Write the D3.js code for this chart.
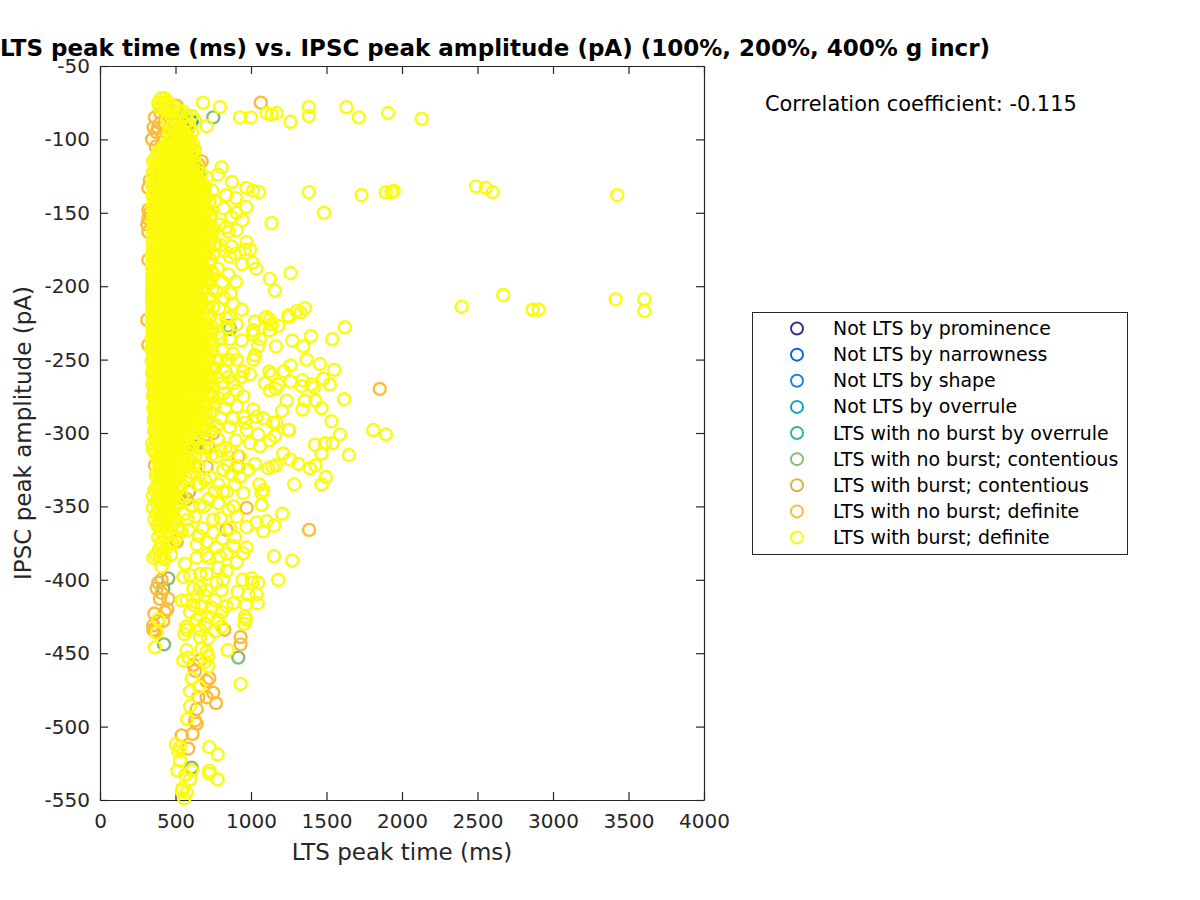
<!DOCTYPE html>
<html>
<head>
<meta charset="utf-8">
<script src="https://cdn.jsdelivr.net/npm/d3@7"></script>
<style>
  body { margin: 0; background: #fff; }
  text { font-family: "DejaVu Sans", sans-serif; }
  .axis path, .axis line { stroke: #262626; stroke-width: 1.2; }
  .axis text { fill: #262626; font-size: 20px; }
</style>
</head>
<body>
<svg id="chart" width="1200" height="900"></svg>
<script>
// legend names, same order as the drawing order
var categories = ["Not LTS by prominence", "Not LTS by narrowness", "Not LTS by shape", "Not LTS by overrule",
  "LTS with no burst by overrule", "LTS with no burst; contentious", "LTS with burst; contentious",
  "LTS with no burst; definite", "LTS with burst; definite"];
var colors = ["#3f2d92", "#0b62e0", "#1c86dd", "#08a6c8", "#2fb7a5", "#86bd74", "#d9b44f", "#fcbc3a", "#fbfb0a"];

var xTicks = [0, 500, 1000, 1500, 2000, 2500, 3000, 3500, 4000];
var yTicks = [-50, -100, -150, -200, -250, -300, -350, -400, -450, -500, -550];

// first three classes are not visible in the picture
var notProminence = [], notNarrowness = [], notShape = [];
var notOverrule = [[485,-90],[552,-86],[607,-88],[574,-94],[470,-104],[400,-126],[590,-150],[640,-178],[560,-120]];
var noBurstOverrule = [[585,-109],[640,-122],[630,-124],[650,-120],[560,-136],[590,-206],[640,-205]];
var noBurstContentious = [[750,-85],[574,-95],[585,-104],[655,-122],[629,-309],[640,-306],[861,-229],[850,-227],
  [452,-399],[424,-444],[419,-406],[916,-453],[607,-528],[570,-224],[519,-344]];
var burstContentious = [[574,-96],[555,-90],[540,-200],[600,-232],[590,-340]];
var noBurstDefinite = [[1065,-75],[508,-77],[397,-89],[364,-85],[375,-95],[474,-85],[574,-95],[673,-115],[651,-117],
  [320,-133],[320,-148],[320,-154],[320,-163],[313,-158],[331,-150],[320,-182],[330,-128],[345,-100],[355,-92],
  [400,-82],[430,-90],[420,-98],[385,-92],[370,-105],[440,-95],
  [313,-223],[320,-240],[1853,-270],[1385,-366],[750,-300],[717,-309],[706,-323],[916,-316],[916,-323],[971,-351],
  [838,-366],[574,-345],[364,-322],[508,-374],[1251,-298],[386,-402],[408,-400],[375,-406],[408,-409],[397,-413],
  [452,-413],[446,-420],[360,-423],[430,-422],[419,-428],[353,-431],[364,-435],[386,-428],[353,-434],[931,-439],
  [931,-444],[724,-467],[706,-469],[750,-477],[706,-480],[768,-484],[651,-480],[640,-488],[629,-496],[640,-498],
  [613,-505],[541,-506],[585,-515],[823,-434],[630,-462],[660,-455],[620,-458]];

// right hand scatter, read ring by ring
var burstDefinite = [[682,-75],[794,-78],[706,-91],[927,-85],[1000,-85],[1103,-82],[1136,-83],[1169,-82],[1262,-88],
  [1383,-78],[1383,-84],[1632,-78],[1714,-85],[1908,-82],[2130,-86],[1383,-136],[1732,-138],[1893,-136],[1930,-136],
  [1945,-135],[2490,-132],[2555,-133],[2600,-136],[3425,-138],[1483,-150],[1136,-157],[1262,-191],[805,-119],[970,-133],
  [1013,-135],[1053,-136],[874,-129],[781,-124],[708,-126],[970,-146],[944,-155],[871,-153],[970,-170],[993,-175],
  [960,-175],[1125,-195],[1158,-203],[1010,-184],[1036,-188],[940,-185],[871,-173],[860,-180],[2395,-214],[2670,-206],
  [2865,-216],[2905,-216],[3415,-209],[3605,-209],[3605,-217],
  [1622,-228],[1357,-215],[1328,-218],[1302,-217],[1247,-220],[1251,-221],[1103,-221],[1092,-222],[1125,-223],[1136,-226],
  [1125,-230],[1180,-227],[1397,-234],[1538,-236],[1273,-237],[1165,-241],[1346,-241],[1368,-250],[1456,-253],[1551,-257],
  [1262,-254],[1218,-258],[1121,-258],[1136,-260],[1478,-263],[1522,-267],[1341,-264],[1335,-268],[1401,-267],[1416,-269],
  [1262,-265],[1180,-267],[1092,-266],[1125,-271],[1165,-270],[1617,-277],[1236,-278],[1357,-278],[1427,-278],[1467,-283],
  [1341,-284],[1205,-285],[1533,-292],[1589,-301],[1809,-298],[1893,-301],[1251,-298],[1423,-308],[1489,-307],[1540,-307],
  [1467,-314],[1648,-315],[1213,-314],[1258,-318],[1313,-321],[1390,-324],[1427,-322],[1496,-330],[1467,-335],[1286,-335],
  [1207,-355],[1081,-367],[1152,-363],[1103,-360],[1037,-361],[1055,-335],[1081,-339],[1070,-341],[1070,-349],[1026,-321],
  [1143,-323],[1114,-324],[1165,-322],[1059,-309],[1048,-301],[1125,-305],[1158,-302],[1147,-293],[1169,-293],[1037,-289],
  [1081,-290],[1015,-284],[960,-293],[949,-289],[971,-298],[993,-307],[927,-316],[905,-323],[982,-325],[949,-275],[905,-282],
  [849,-277],[993,-260],[949,-258],[1015,-250],[1026,-247],[905,-250],[1048,-241],[1015,-233],[1059,-236],[938,-237],[1015,-230],
  [1026,-224],[938,-216],[861,-221],[783,-232],[772,-223],[750,-214],[883,-266],[905,-271],[816,-273],[772,-316],[816,-325],
  [695,-332],[783,-335],[894,-335],[949,-341],[927,-330],[783,-348],[883,-350],[905,-357],[750,-359],[662,-349],[629,-357],
  [585,-366],[750,-368],[706,-374],[894,-371],[971,-364],[971,-378],[883,-377],[463,-351],[519,-365],
  [1152,-384],[1273,-387],[1180,-400],[1004,-399],[1048,-402],[944,-400],[1010,-402],[911,-408],[1037,-410],[982,-410],
  [1044,-416],[966,-417],[883,-416],[960,-425],[966,-427],[955,-430],[845,-448],[931,-471],[569,-432],[572,-434],[558,-437],
  [574,-448],[552,-455],[585,-453],[673,-447],[706,-449],[717,-452],[695,-456],[717,-459],[607,-467],[658,-473],[596,-476],
  [596,-486],[578,-495],[503,-512],[530,-514],[519,-517],[530,-523],[512,-530],[563,-533],[607,-530],[596,-536],[724,-514],
  [779,-519],[724,-530],[724,-532],[779,-536],[547,-542],[574,-545],[558,-549],[541,-544],[364,-446],[386,-427],[375,-436],
  [353,-385],[397,-384],[430,-386],[408,-391],[563,-389],[552,-398],[596,-397],[662,-396],[706,-396],[783,-392],[838,-394],
  [905,-388],[949,-382],[706,-383],[640,-385],[794,-384],[662,-405],[618,-406],[706,-407],[772,-402],[816,-400],[805,-407],
  [640,-411],[695,-411],[761,-414],[574,-414],[541,-414],[618,-417],[673,-418],[739,-419],[805,-422],[838,-418],[596,-422],
  [662,-424],[717,-425],[783,-427],[640,-427],[695,-430],[662,-434],[761,-435],[717,-440],[662,-439],[805,-432],
  [700,-140],[760,-142],[820,-147],[730,-152],[790,-158],[850,-163],[715,-165],[765,-171],[825,-176],[900,-140],[905,-162],
  [730,-182],[780,-188],[850,-192],[900,-197],[725,-198],[770,-204],[820,-208],[880,-212],[720,-222],[690,-234],[740,-240],
  [810,-244],[860,-236],[700,-248],[760,-256],[830,-258],[880,-246],[715,-268],[780,-276],[850,-262],[730,-286],[800,-290],
  [860,-296],[900,-305],[830,-310],[780,-304],[870,-328],[840,-340],[720,-345],[800,-358],[680,-365],[640,-376],[840,-382],
  [745,-135],[835,-138],[680,-130],[905,-150],[835,-160],[800,-172],[895,-178],[750,-192],[810,-197],[865,-205],[790,-215],
  [835,-222],[745,-228],[800,-235],[850,-228],[905,-226],[735,-262],[795,-250],[850,-250],[935,-262],[810,-266],[755,-280],
  [830,-283],[880,-290],[770,-295],[705,-296],[740,-315],[800,-312],[860,-312],[690,-310],[730,-330],[845,-322],[815,-340],
  [760,-340],[690,-350],[850,-352],[810,-372],[770,-378],[860,-365],[720,-385],[655,-370],[610,-350],[640,-335],[595,-330]];

// the solid part of the cloud, one row per y level: [y, x, x, x ...]
var denseRows = [
  [-72,405,430],[-75,386,418,452],[-78,392,425,463,495],[-81,440,520,552],[-84,470,575,607],[-87,445,505,540,629],
  [-91,480,530,590],[-95,510,560,610],[-99,470,535,585],[-103,445,500,555,615],
  [-107,410,465,525,580,630],[-111,378,432,490,545,600],[-115,352,400,455,512,568,625],[-119,372,425,480,535,590,645],
  [-123,348,395,445,500,555,610,665],[-127,368,418,472,525,580,635],[-131,345,392,442,495,548,602,658,690],
  [-135,365,415,468,520,575,628,680],[-139,350,388,438,490,545,598,650,705],[-143,362,412,462,515,570,622,675],
  [-147,352,385,435,488,540,592,645,700],[-151,360,408,458,512,565,618,672,735],[-155,350,382,432,485,538,590,642,695],
  [-159,358,405,455,508,560,612,668,720],[-163,352,380,430,480,532,585,638,690,745],[-167,355,402,452,505,558,610,662,712],
  [-171,350,378,428,478,530,582,635,688],[-175,352,400,450,502,555,608,660,710],[-179,346,376,425,475,528,580,632,685],
  [-183,350,398,448,500,552,605,658],[-187,344,374,422,472,525,578,630,682],[-191,348,395,445,498,550,602,655,705],
  [-195,345,372,420,470,522,575,628,678],[-199,346,392,442,495,548,600,652],[-203,345,370,418,468,520,572,625,675],
  [-207,345,390,440,492,545,598,650],[-211,345,368,415,465,518,570,622,672],[-215,348,392,442,495,548,600,655],
  [-219,345,372,418,468,520,575,628],[-223,345,392,445,498,550,605,660],[-227,345,370,420,472,525,580,635,690],
  [-231,350,395,448,500,555,610,665],[-235,342,372,422,475,530,585,640,700],[-239,352,398,450,505,560,615,670],
  [-243,340,375,425,478,532,588,645,705],[-247,355,400,452,508,562,618,675],[-251,342,378,428,482,535,592,650,715],
  [-255,358,402,455,510,565,622,680,735],[-259,345,380,430,485,540,598,655,710],[-263,360,405,458,512,570,628,685],
  [-267,348,382,432,488,545,602,660,720],[-271,362,408,460,515,572,630,690],[-275,350,385,435,490,548,605,665,740],
  [-279,365,410,462,518,575,632,695],[-283,352,388,438,492,550,608,668],[-287,368,412,465,520,578,635,700],
  [-291,355,390,440,495,552,610,670],[-295,370,415,468,522,580,640],[-299,358,392,442,498,555,615],
  [-303,372,418,470,525,585,650],[-307,345,395,445,500,558,620],[-311,350,420,472,528,590],
  [-315,375,398,448,503,562],[-319,385,425,475,532,595],[-323,400,452,508,565,650],[-327,380,430,480,535,610],
  [-331,405,455,510,570],[-335,385,432,485,540,660],[-339,360,410,460,515],[-343,350,390,438,490,545],
  [-347,372,415,465,520],[-351,350,395,442,495],[-355,375,420,470,560],[-359,360,398,445,500,580],
  [-363,380,425,475],[-367,400,450,540],[-371,385,430,510],[-375,405,455,480],[-379,390,435],[-383,370,415,470]];

// second pass over the solid part, rings sitting between the first ones
var denseRows2 = [
  [-93,460,495,525],[-97,450,490,522,565],[-101,468,512,545,590],[-105,420,455,490,540,600],
  [-109,385,440,478,515,560,610],[-113,365,415,462,500,530,575],[-117,380,428,470,520,550,600],[-121,360,410,458,505,562,615],
  [-125,375,422,465,515,575,640],[-129,355,405,450,498,552,605],[-133,378,428,478,530,582,635],[-137,352,402,452,505,558,610,660],
  [-141,375,425,475,528,580,632,690],[-145,350,400,448,500,552,605,658],[-149,372,422,472,525,578,630],[-153,352,398,445,498,550,603,655],
  [-157,370,420,470,522,575,628,680],[-161,352,395,442,495,548,600,652],[-165,368,418,468,520,572,625,675],[-169,352,392,440,492,545,598,650],
  [-173,365,415,465,518,570,622,672],[-177,350,390,438,490,542,595,648],[-181,362,412,462,515,568,620,670],[-185,350,388,435,488,540,592,645],
  [-189,360,410,460,512,565,618,668],[-193,348,385,432,485,538,590,642],[-197,358,408,458,510,562,615],[-201,348,382,430,482,535,588,640],
  [-205,356,405,455,508,560,612],[-209,350,380,428,480,532,585,638],[-213,356,405,455,508,560,612,665],[-217,350,382,430,482,535,588],
  [-221,358,405,458,510,562,618],[-225,350,382,432,485,538,592,648],[-229,360,408,460,512,568,622],[-233,350,385,435,488,542,598,655],
  [-237,362,410,462,518,572,628],[-241,348,388,438,492,546,602,660],[-245,365,412,465,520,575,632],[-249,350,390,440,495,550,605,665],
  [-253,368,415,468,522,578,635],[-257,352,392,442,498,552,610,670],[-261,370,418,470,525,582,640],[-265,355,395,445,500,558,615,675],
  [-269,372,420,472,528,585,645],[-273,358,398,448,502,560,618,678],[-277,375,422,475,530,590,650],[-281,360,400,450,505,562,622,680],
  [-285,378,425,478,535,592,655],[-289,362,402,452,508,565,625],[-293,380,428,480,538,595],[-297,365,405,455,510,568,628],
  [-301,382,430,482,540,600],[-305,368,408,458,512,572],[-309,385,432,485,542],[-313,362,410,460,515,575],[-317,390,435,488,545],
  [-321,412,462,518],[-325,392,438,490,548],[-329,370,415,465,520],[-333,395,440,495],[-337,375,420,470,525],[-341,400,445],
  [-345,382,425,478],[-349,405,450,505],[-353,385,430],[-357,410,455],[-361,390,435,485]];

// right shoulder of the solid part
var denseRows3 = [
  [-128,625,660],[-134,650,695],[-142,640,685,725],[-148,660,710],[-154,630,680,730],[-160,650,700,745],[-166,635,690,735],
  [-172,660,715,755],[-178,640,700,750],[-184,670,720],[-190,645,695,740],[-196,665,715],[-202,640,695,745],[-208,670,725],
  [-214,645,700],[-220,675,730],[-226,650,710],[-232,680,735],[-238,655,715],[-244,685,740],[-250,660,720,765],[-256,695,750],
  [-262,665,725,775],[-268,700,750],[-274,670,725],[-280,705,760],[-286,675,735],[-292,650,710],[-298,680,735],[-304,640,700],
  [-310,600,660],[-316,630,680],[-322,590,620]];

var margin = {top: 66, right: 496, bottom: 100, left: 100},
  width = 1200 - margin.left - margin.right,
  height = 900 - margin.top - margin.bottom;

var x = d3.scaleLinear().domain([0, 4000]).range([0, width]);
var y = d3.scaleLinear().domain([-550, -50]).range([height, 0]);

var svg = d3.select("#chart");
var g = svg.append("g").attr("transform", "translate(" + margin.left + "," + margin.top + ")");

// flatten the rows so everything goes through the same drawing code
var denseBurst = denseRows.concat(denseRows2, denseRows3).flatMap(function(r) {
  return r.slice(1).map(function(v) { return [v, r[0]]; });
});
var seriesData = [notProminence, notNarrowness, notShape, notOverrule, noBurstOverrule, noBurstContentious,
  burstContentious, noBurstDefinite, burstDefinite.concat(denseBurst)];

// axes, ticks point inward, plain numbers with a hyphen like the original
var fmt = function(d) { return String(d); };
var xAxis = d3.axisBottom(x).tickValues(xTicks).tickFormat(fmt).tickSizeInner(-8).tickSizeOuter(0).tickPadding(14);
var yAxis = d3.axisLeft(y).tickValues(yTicks).tickFormat(fmt).tickSizeInner(-8).tickSizeOuter(0).tickPadding(10);

g.append("g").attr("class", "axis").attr("transform", "translate(0," + height + ")").call(xAxis);
g.append("g").attr("class", "axis").call(yAxis);
g.append("g").attr("class", "axis").call(d3.axisTop(x).tickValues(xTicks).tickSizeInner(-8).tickSizeOuter(0).tickFormat(""));
g.append("g").attr("class", "axis").attr("transform", "translate(" + width + ",0)")
  .call(d3.axisRight(y).tickValues(yTicks).tickSizeInner(-8).tickSizeOuter(0).tickFormat(""));

// points
seriesData.forEach(function(pts, i) {
  g.append("g").selectAll("circle")
    .data(pts)
    .enter()
    .append("circle")
    .attr("cx", function(d) { return x(d[0]); })
    .attr("cy", function(d) { return y(d[1]); })
    .attr("r", 6)
    .attr("fill", "none")
    .attr("stroke", colors[i])
    .attr("stroke-width", 2.4);
});

// titles
svg.append("text").attr("x", 495).attr("y", 56).attr("text-anchor", "middle")
  .attr("font-size", 23).attr("font-weight", "bold").attr("fill", "#000")
  .text("LTS peak time (ms) vs. IPSC peak amplitude (pA) (100%, 200%, 400% g incr)");
svg.append("text").attr("x", 402).attr("y", 860).attr("text-anchor", "middle")
  .attr("font-size", 23).attr("fill", "#262626").text("LTS peak time (ms)");
svg.append("text").attr("transform", "translate(31,433) rotate(-90)").attr("text-anchor", "middle")
  .attr("font-size", 23).attr("fill", "#262626").text("IPSC peak amplitude (pA)");
svg.append("text").attr("x", 765).attr("y", 111).attr("font-size", 20.9).attr("fill", "#000")
  .text("Correlation coefficient: -0.115");

// legend
svg.append("rect").attr("x", 752.5).attr("y", 312.5).attr("width", 375).attr("height", 242)
  .attr("fill", "#fff").attr("stroke", "#262626");
var legendY = d3.scalePoint().domain(categories).range([328.5, 537.5]);
var legend = svg.append("g").selectAll("g")
  .data(categories)
  .enter()
  .append("g")
  .attr("transform", function(d) { return "translate(0," + legendY(d) + ")"; });
legend.append("circle").attr("cx", 797).attr("r", 6).attr("fill", "none")
  .attr("stroke", function(d, i) { return colors[i]; }).attr("stroke-width", 2);
legend.append("text").attr("x", 833).attr("y", 6.5).attr("font-size", 18.9).attr("fill", "#000")
  .text(function(d) { return d; });
</script>
</body>
</html>
